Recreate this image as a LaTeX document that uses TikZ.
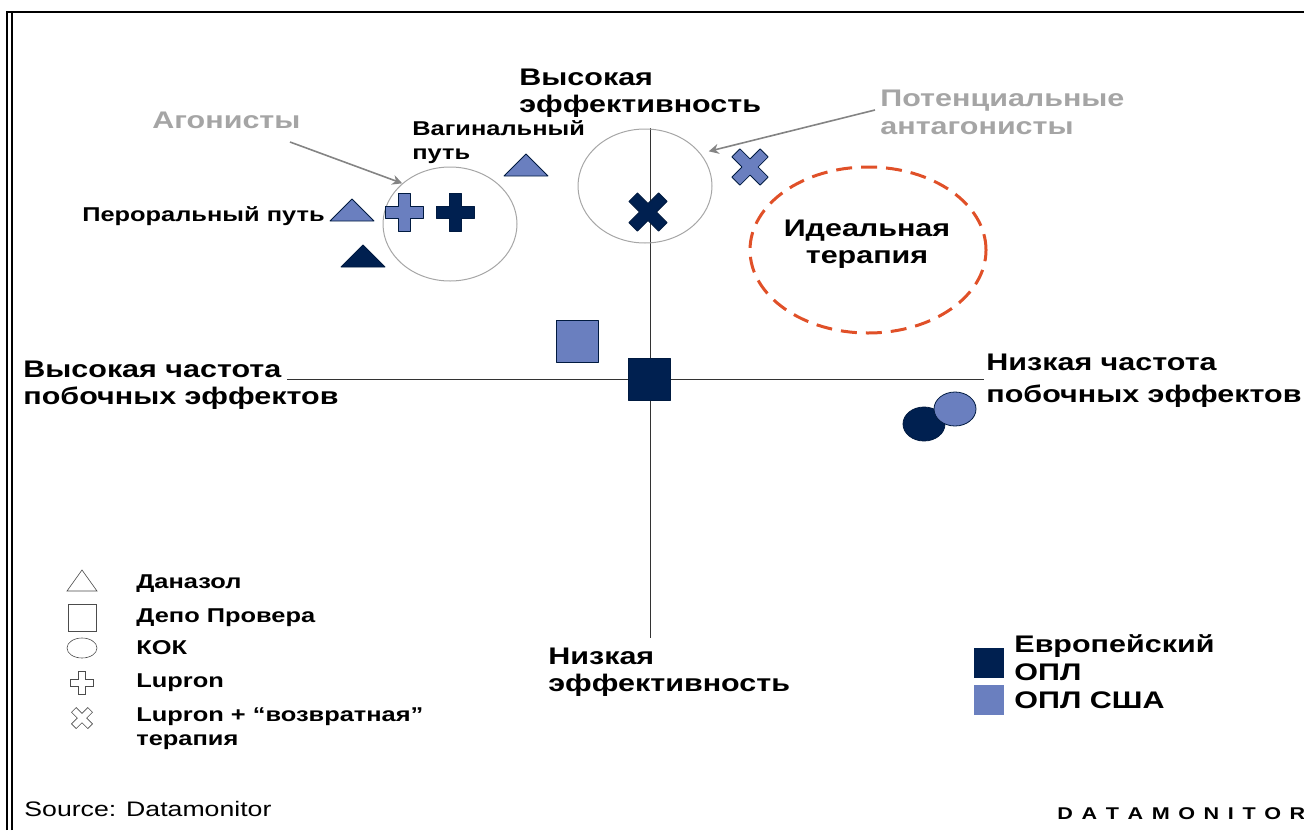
\documentclass[tikz,border=0pt]{standalone}
\usepackage{fontspec}
\setmainfont{Liberation Sans}[FakeStretch=1.27]
\usetikzlibrary{positioning, arrows.meta, shapes.geometric}
\definecolor{navy}{RGB}{0,32,80}
\definecolor{lightblue}{RGB}{106,127,191}
\definecolor{idealred}{RGB}{224,80,40}
\definecolor{notegray}{RGB}{165,165,165}
\tikzset{
  axislabel/.style={font=\bfseries\fontsize{12}{13.5}\selectfont,align=left,inner sep=0pt,anchor=north west},
  smalllabel/.style={font=\bfseries\fontsize{10}{12}\selectfont,align=left,inner sep=0pt,anchor=north west},
  notelabel/.style={font=\bfseries\fontsize{12}{14}\selectfont,text=notegray,align=left,inner sep=0pt,anchor=north west},
  kok/.style={draw=gray!70,ellipse,minimum width=67pt,minimum height=57pt,line width=0.5pt},
  mkline/.style={draw=navy!80!black,line width=0.4pt,line join=round},
  legline/.style={draw=black!70,line width=0.3pt,fill=white},
  pics/tri/.style={code={\filldraw[mkline,fill=#1] (-22,11)--(22,11)--(0,-11)--cycle;}},
  pics/plusmk/.style={code={\filldraw[mkline,fill=#1] (-6,-19)--(6,-19)--(6,-6)--(19,-6)--(19,6)--(6,6)--(6,19)--(-6,19)--(-6,6)--(-19,6)--(-19,-6)--(-6,-6)--cycle;}},
  pics/xmk/.style={code={\filldraw[mkline,fill=#1,rotate=45] (-6,-21)--(6,-21)--(6,-6)--(21,-6)--(21,6)--(6,6)--(6,21)--(-6,21)--(-6,6)--(-21,6)--(-21,-6)--(-6,-6)--cycle;}},
}

\begin{document}
\begin{tikzpicture}[x=0.5pt,y=-0.5pt,>={Stealth[length=5pt,width=5pt]}]
  \useasboundingbox (0,0) rectangle (1304,830);
  % frame
  \draw[line width=1.4pt] (7,830) -- (7,12) -- (1304,12);
  \draw[line width=1pt] (12,830) -- (12,13);

  % axes
  \coordinate (ytop) at (650,128);
  \coordinate (ybot) at (650,638);
  \coordinate (xleft) at (287,379);
  \coordinate (xright) at (984,379);
  \draw[black!80,line width=0.5pt] (ytop) -- (ybot);
  \draw[black!80,line width=0.5pt] (xleft) -- (xright);

  \node[axislabel] (higheff) at (519,69) {Высокая\\эффективность};
  \node[axislabel] (loweff) at (548,648) {Низкая\\эффективность};
  \node[axislabel] (highside) at (23,361) {Высокая частота\\побочных эффектов};
  \node[axislabel,font=\bfseries\fontsize{12}{16}\selectfont] (lowside) at (986,354) {Низкая частота\\побочных эффектов};

  % groups
  \node[kok] (agkok) at (450,224) {};
  \node[kok] (antkok) at (645,186) {};
  \node[draw=idealred,ellipse,dash pattern=on 8pt off 4.5pt,line width=1.5pt,minimum width=118pt,minimum height=83pt] (ideal) at (868,250) {};
  \node[font=\bfseries\fontsize{12}{13.5}\selectfont,align=center] (idealtxt) at (867,244) {Идеальная\\терапия};

  \node[notelabel] (agon) at (152,112) {Агонисты};
  \node[notelabel] (antag) at (880,90) {Потенциальные\\антагонисты};
  \draw[->,notegray!80!black,line width=0.8pt] (290,142) -- (agkok.north west);
  \draw[->,notegray!80!black,line width=0.8pt] (875,110) -- ([shift={(16,6)}]antkok.north east);

  \node[smalllabel] (vagin) at (412,120) {Вагинальный\\путь};
  \node[smalllabel,anchor=north east] (peror) at (325,206) {Пероральный путь};

  % markers
  \pic at (526,165) {tri=lightblue};
  \pic at (352,210) {tri=lightblue};
  \pic at (363,256) {tri=navy};
  \pic at (404,212) {plusmk=lightblue};
  \pic at (455,212) {plusmk=navy};
  \pic at (648,212) {xmk=navy};
  \pic[scale=0.95] at (750,167) {xmk=lightblue};
  \node[mkline,fill=lightblue,minimum size=21pt,inner sep=0pt] (usdepo) at (577,341) {};
  \node[mkline,fill=navy,minimum size=21pt,inner sep=0pt] (eudepo) at (649,379) {};
  \node[mkline,fill=navy,ellipse,minimum width=21pt,minimum height=17pt,inner sep=0pt] (eukok) at (924,424) {};
  \node[mkline,fill=lightblue,ellipse,minimum width=21pt,minimum height=17pt,inner sep=0pt] (uskok) at (955,409) {};

  % legend
  \begin{scope}[every path/.style={legline},mkline/.style={legline}]
    \draw (67,591) -- (97,591) -- (82,570) -- cycle;
    \draw (68,604) rectangle (96,631);
    \draw (82,648) ellipse (15 and 10);
    \pic[scale=0.6] at (82,683) {plusmk=white};
    \pic[scale=0.55] at (82,718) {xmk=white};
  \end{scope}
  \node[smalllabel] (leg1) at (136,574) {Даназол};
  \node[smalllabel] (leg2) at (136,608) {Депо Провера};
  \node[smalllabel] (leg3) at (136,640) {КОК};
  \node[smalllabel] (leg4) at (136,673) {Lupron};
  \node[smalllabel] (leg5) at (136,707) {Lupron + “возвратная”\\терапия};

  \node[fill=navy,minimum size=15pt,inner sep=0pt] (eusq) at (989,663) {};
  \node[fill=lightblue,minimum size=15pt,inner sep=0pt] (ussq) at (989,700) {};
  \node[axislabel,font=\bfseries\fontsize{12}{14}\selectfont] (eutxt) at (1014,634) {Европейский\\ОПЛ\\ОПЛ США};

  \node[font=\fontsize{10.5}{12}\selectfont,inner sep=0pt,anchor=north west] (src) at (24,801) {Source: Datamonitor};
  \node[font=\bfseries\fontsize{8.5}{10}\selectfont,inner sep=0pt,anchor=north west] (dm) at (1057,807)
    {D\hspace{4.3pt}A\hspace{4.3pt}T\hspace{4.3pt}A\hspace{4.3pt}M\hspace{4.3pt}O\hspace{4.3pt}N\hspace{4.3pt}I\hspace{4.3pt}T\hspace{4.3pt}O\hspace{4.3pt}R};
\end{tikzpicture}
\end{document}
